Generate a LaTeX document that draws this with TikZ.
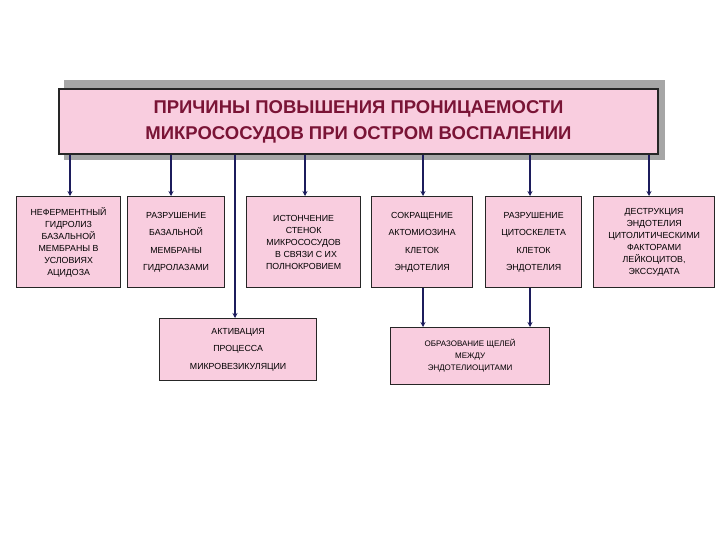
\documentclass[tikz,border=0pt]{standalone}
\usepackage{fontspec}
\setmainfont{Liberation Sans}
\usetikzlibrary{arrows.meta}
\begin{document}
\begin{tikzpicture}[x=1pt,y=-1pt,
 box/.style={draw=black!85,line width=1.2pt,fill=pinkfill,align=center,font=\fontsize{8.8}{12}\selectfont,inner sep=1pt},
 wide/.style={font=\fontsize{8.8}{17.5}\selectfont},
 arr/.style={draw=navy,line width=1.6pt,-{Stealth[length=5pt,width=5pt]}}]
\definecolor{pinkfill}{HTML}{F9CDDF}
\definecolor{navy}{HTML}{1C1C5C}
\definecolor{maroon}{HTML}{7A1436}
\useasboundingbox (0,0) rectangle (720,540);
\fill[gray!70] (64,80) rectangle (665,160);
\node[box,line width=2pt,minimum width=599pt,minimum height=65pt,anchor=north west,font=\bfseries\fontsize{18.5}{26}\selectfont,text=maroon] (t) at (58,88) {ПРИЧИНЫ ПОВЫШЕНИЯ ПРОНИЦАЕМОСТИ\\МИКРОСОСУДОВ ПРИ ОСТРОМ ВОСПАЛЕНИИ};
\node[box,minimum width=104pt,minimum height=91pt,anchor=north west] (b1) at (16,196) {НЕФЕРМЕНТНЫЙ\\ГИДРОЛИЗ\\БАЗАЛЬНОЙ\\МЕМБРАНЫ В\\УСЛОВИЯХ\\АЦИДОЗА};
\node[box,wide,minimum width=97pt,minimum height=91pt,anchor=north west] (b2) at (127,196) {РАЗРУШЕНИЕ\\БАЗАЛЬНОЙ\\МЕМБРАНЫ\\ГИДРОЛАЗАМИ};
\node[box,minimum width=114pt,minimum height=91pt,anchor=north west] (b3) at (246,196) {ИСТОНЧЕНИЕ\\СТЕНОК\\МИКРОСОСУДОВ\\\ \ В СВЯЗИ С ИХ\\ПОЛНОКРОВИЕМ};
\node[box,wide,minimum width=101pt,minimum height=91pt,anchor=north west] (b4) at (371,196) {СОКРАЩЕНИЕ\\АКТОМИОЗИНА\\КЛЕТОК\\ЭНДОТЕЛИЯ};
\node[box,wide,minimum width=96pt,minimum height=91pt,anchor=north west] (b5) at (485,196) {РАЗРУШЕНИЕ\\ЦИТОСКЕЛЕТА\\КЛЕТОК\\ЭНДОТЕЛИЯ};
\node[box,minimum width=121pt,minimum height=91pt,anchor=north west] (b6) at (593,196) {ДЕСТРУКЦИЯ\\ЭНДОТЕЛИЯ\\ЦИТОЛИТИЧЕСКИМИ\\ФАКТОРАМИ\\ЛЕЙКОЦИТОВ,\\ЭКССУДАТА};
\node[box,wide,minimum width=157pt,minimum height=62pt,anchor=north west] (c1) at (159,318) {АКТИВАЦИЯ\\ПРОЦЕССА\\МИКРОВЕЗИКУЛЯЦИИ};
\node[box,minimum width=159pt,minimum height=57pt,anchor=north west,font=\fontsize{8}{12}\selectfont] (c2) at (390,327) {ОБРАЗОВАНИЕ ЩЕЛЕЙ\\МЕЖДУ\\ЭНДОТЕЛИОЦИТАМИ};
\draw[arr] (70,0 |- t.south) -- (70,0 |- b1.north);
\draw[arr] (171,0 |- t.south) -- (171,0 |- b2.north);
\draw[arr] (235,0 |- t.south) -- (235,0 |- c1.north);
\draw[arr] (305,0 |- t.south) -- (305,0 |- b3.north);
\draw[arr] (423,0 |- t.south) -- (423,0 |- b4.north);
\draw[arr] (530,0 |- t.south) -- (530,0 |- b5.north);
\draw[arr] (649,0 |- t.south) -- (649,0 |- b6.north);
\draw[arr] (423,0 |- b4.south) -- (423,0 |- c2.north);
\draw[arr] (530,0 |- b5.south) -- (530,0 |- c2.north);
\end{tikzpicture}
\end{document}
